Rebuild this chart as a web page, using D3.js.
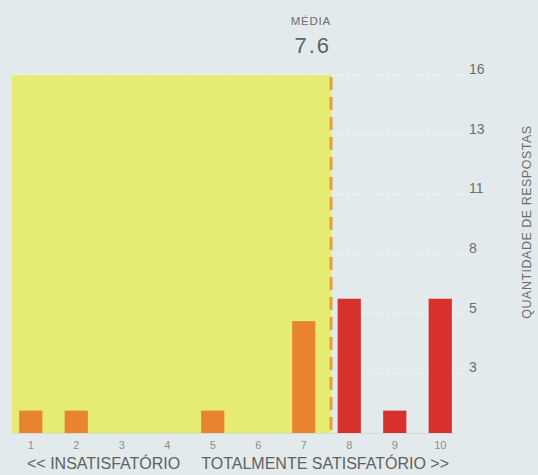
<!DOCTYPE html>
<html>
<head>
<meta charset="utf-8">
<script src="https://cdn.jsdelivr.net/npm/d3@7"></script>
<style>
  html, body { margin: 0; padding: 0; background: #e3eaec; }
  svg { display: block; }
  text { font-family: "Liberation Sans", Arial, Helvetica, sans-serif; }
</style>
</head>
<body>
<svg id="chart" width="538" height="475"></svg>
<script>
// ---- data ----
const categories = [1, 2, 3, 4, 5, 6, 7, 8, 9, 10];
const counts     = [1, 1, 0, 0, 1, 0, 5, 6, 1, 6];
const meanValue  = 7.6;
const meanLabel  = "7.6";
const meanTitle  = "MÉDIA";
const yTickValues = [16 / 6, 32 / 6, 8, 64 / 6, 80 / 6, 16];
const yTickLabels = ["3", "5", "8", "11", "13", "16"];
const yMax = 16;
const yTitle = "QUANTIDADE DE RESPOSTAS";
const leftLabel = "<< INSATISFATÓRIO";
const rightLabel = "TOTALMENTE SATISFATÓRIO >>";

// ---- colours ----
const bg = "#e3eaec";
const zoneColor = "#e6ec72";
const lowColor = "#e8832e";
const highColor = "#d8312d";
const meanLineColor = "#e3a03e";
const gridColor = "#f2f6f7";
const textColor = "#6a6e70";

const svg = d3.select("#chart");
const W = 538, H = 475;
const plot = { left: 8, right: 463, top: 75, bottom: 433 };

svg.append("rect").attr("width", W).attr("height", H).attr("fill", bg);

const x = d3.scaleBand().domain(categories).range([plot.left, plot.right]).paddingInner(0.49).paddingOuter(0.245);
const xLin = d3.scaleLinear()
  .domain([categories[0], categories[categories.length - 1]])
  .range([x(categories[0]) + x.bandwidth() / 2, x(categories[categories.length - 1]) + x.bandwidth() / 2]);
const y = d3.scaleLinear().domain([0, yMax]).range([plot.bottom, plot.top]);

// grid lines (dotted)
svg.append("g").selectAll("line").data(yTickValues).join("line")
  .attr("x1", plot.left + 4).attr("x2", plot.right + 4)
  .attr("y1", d => y(d)).attr("y2", d => y(d))
  .attr("stroke", gridColor).attr("stroke-width", 1.5)
  .attr("stroke-dasharray", "2,3");

// below-mean zone
svg.append("rect")
  .attr("x", plot.left + 4)
  .attr("y", y(yMax))
  .attr("width", xLin(meanValue) - plot.left - 4)
  .attr("height", y(0) - y(yMax))
  .attr("fill", zoneColor);

// baseline
svg.append("line")
  .attr("x1", plot.left + 4).attr("x2", plot.right - 8)
  .attr("y1", y(0) + 0.5).attr("y2", y(0) + 0.5)
  .attr("stroke", "#d3dbdd").attr("stroke-width", 1);

// bars
svg.append("g").selectAll("rect").data(categories.map((c, i) => ({ c, v: counts[i] }))).join("rect")
  .attr("x", d => x(d.c))
  .attr("width", x.bandwidth())
  .attr("y", d => y(d.v))
  .attr("height", d => y(0) - y(d.v))
  .attr("fill", d => d.c < meanValue ? lowColor : highColor);

// mean line
svg.append("line")
  .attr("x1", xLin(meanValue)).attr("x2", xLin(meanValue))
  .attr("y1", y(yMax) + 2).attr("y2", y(0))
  .attr("stroke", meanLineColor).attr("stroke-width", 3)
  .attr("stroke-dasharray", "13,7");

// mean labels
svg.append("text")
  .attr("x", xLin(meanValue)).attr("y", 25)
  .attr("text-anchor", "end")
  .attr("font-size", 11.5).attr("letter-spacing", 0.8)
  .attr("fill", textColor)
  .text(meanTitle);
svg.append("text")
  .attr("x", xLin(meanValue)).attr("y", 53)
  .attr("text-anchor", "end")
  .attr("font-size", 22).attr("letter-spacing", 2)
  .attr("fill", "#5e6264")
  .text(meanLabel);

// right axis
const yAxis = d3.axisRight(y).tickValues(yTickValues)
  .tickFormat((d, i) => yTickLabels[i]).tickSize(0).tickPadding(0);
const gy = svg.append("g").attr("transform", `translate(${plot.right + 6},0)`).call(yAxis);
gy.select(".domain").remove();
gy.selectAll("text")
  .attr("font-family", "Liberation Sans, Arial, sans-serif")
  .attr("font-size", 14).attr("fill", textColor)
  .attr("dy", "-0.1em");

// y title
svg.append("text")
  .attr("transform", `translate(531, 222) rotate(-90)`)
  .attr("text-anchor", "middle")
  .attr("font-size", 12.5).attr("letter-spacing", 0.5).attr("fill", textColor)
  .text(yTitle);

// bottom axis
const xAxis = d3.axisBottom(x).tickSize(0).tickPadding(8);
const gx = svg.append("g").attr("transform", `translate(0,${plot.bottom})`).call(xAxis);
gx.select(".domain").remove();
gx.selectAll("text")
  .attr("font-family", "Liberation Sans, Arial, sans-serif")
  .attr("font-size", 11).attr("fill", "#8a8e90");

// bottom range labels
svg.append("text")
  .attr("x", 27).attr("y", 469)
  .attr("font-size", 16).attr("fill", "#5e6264")
  .text(leftLabel);
svg.append("text")
  .attr("x", 449).attr("y", 469)
  .attr("text-anchor", "end")
  .attr("font-size", 16).attr("fill", "#5e6264")
  .text(rightLabel);
</script>
</body>
</html>
